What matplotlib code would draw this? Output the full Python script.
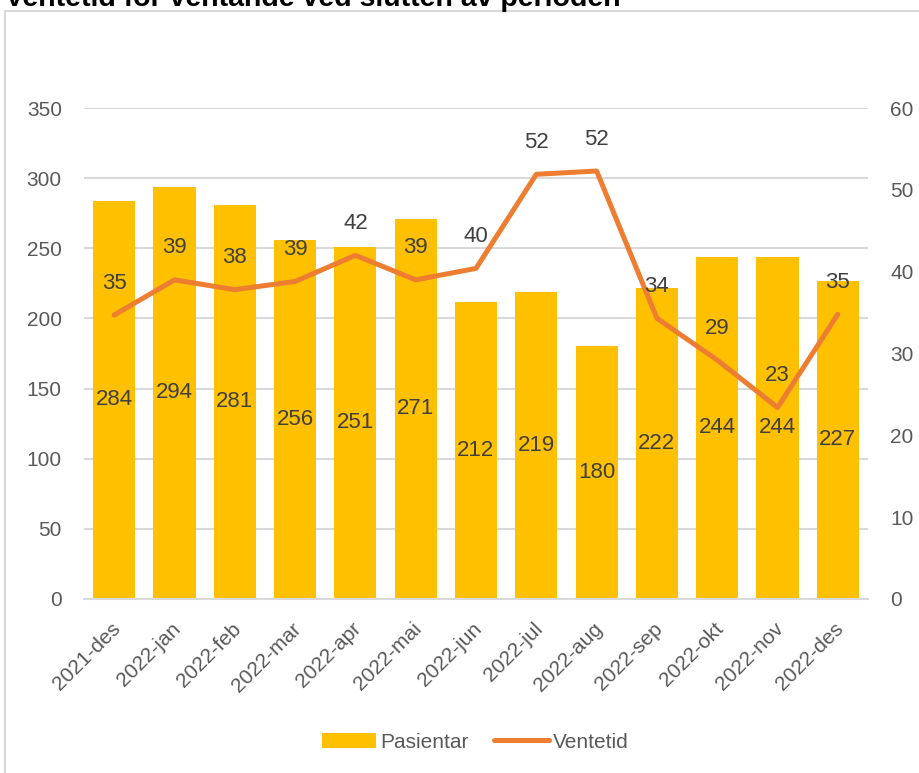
import matplotlib
matplotlib.use("Agg")
import matplotlib.pyplot as plt
import matplotlib.transforms as mtransforms
from matplotlib.patches import Rectangle
import numpy as np

plt.rcParams['font.family'] = ['Liberation Sans', 'DejaVu Sans']

# data
months = ["2021-des", "2022-jan", "2022-feb", "2022-mar", "2022-apr", "2022-mai", "2022-jun",
          "2022-jul", "2022-aug", "2022-sep", "2022-okt", "2022-nov", "2022-des"]
pasientar = [284, 294, 281, 256, 251, 271, 212, 219, 180, 222, 244, 244, 227]
ventetid = [34.7, 39.0, 37.8, 38.8, 42.0, 39.0, 40.4, 51.9, 52.3, 34.3, 29.2, 23.4, 34.8]

title = "Ventetid for ventande ved slutten av perioden"

bar_col = "#FFC000"
line_col = "#ED7D31"
txt_col = "#595959"
lab_col = "#404040"
grid_col = "#D9D9D9"

W, H = 919, 773
fig = plt.figure(figsize=(W / 100, H / 100), dpi=100)

# chart frame (only left and top edge are visible in the crop)
fig.patches.append(Rectangle((5 / W, -0.1), 1.2, 1 - 11 / H + 0.1, transform=fig.transFigure,
                             fill=False, edgecolor=grid_col, linewidth=1.5))
fig.text(5 / W, 1 - 6 / H, title, fontsize=20.5, fontweight='bold', color='black',
         ha='left', va='baseline')

ax = fig.add_axes([84 / W, 1 - 599 / H, (868 - 84) / W, (599 - 108) / H])
ax2 = ax.twinx()

x = np.arange(len(months))
bars = ax.bar(x, pasientar, width=0.70, color=bar_col, zorder=2, label="Pasientar")
ax.set_xlim(-0.5, len(months) - 0.5)
ax.set_ylim(0, 350)
ax.set_yticks(np.arange(0, 351, 50))
ax.grid(axis='y', color=grid_col, linewidth=1.5, zorder=0)
ax.set_axisbelow(True)

for xi, v in zip(x, pasientar):
    ax.text(xi, v / 2, str(v), ha='center', va='center', fontsize=16, color=lab_col, zorder=3)

line, = ax2.plot(x, ventetid, color=line_col, linewidth=3.6, solid_capstyle='round',
                 solid_joinstyle='round', label="Ventetid", zorder=4)
ax2.set_ylim(0, 60)
ax2.set_yticks(np.arange(0, 61, 10))
for xi, v in zip(x, ventetid):
    ax2.annotate(str(int(round(v))), (xi, v), xytext=(0, 23), textcoords='offset points',
                 ha='center', va='center', fontsize=16, color=lab_col, zorder=5)

for a in (ax, ax2):
    for s in a.spines.values():
        s.set_visible(False)
    a.tick_params(length=0, labelsize=15, labelcolor=txt_col)
ax.tick_params(axis='y', pad=16)
ax2.tick_params(axis='y', pad=16)
ax.spines['bottom'].set_visible(True)
ax.spines['bottom'].set_color(grid_col)
ax.spines['bottom'].set_linewidth(1.5)

ax.set_xticks(x)
ax.set_xticklabels(months, rotation=45, ha='right', va='center', rotation_mode='anchor')
shift = mtransforms.ScaledTranslation(3 / 100, -22 / 100, fig.dpi_scale_trans)
for lbl in ax.get_xticklabels():
    lbl.set_transform(lbl.get_transform() + shift)

fig.legend(handles=[bars, line], labels=["Pasientar", "Ventetid"], loc='center',
           bbox_to_anchor=(475 / W, 1 - 742 / H), ncol=2, frameon=False, fontsize=15,
           labelcolor=txt_col, handlelength=2.6, handletextpad=0.2, columnspacing=1.25)

fig.savefig("out.png", dpi=100)
